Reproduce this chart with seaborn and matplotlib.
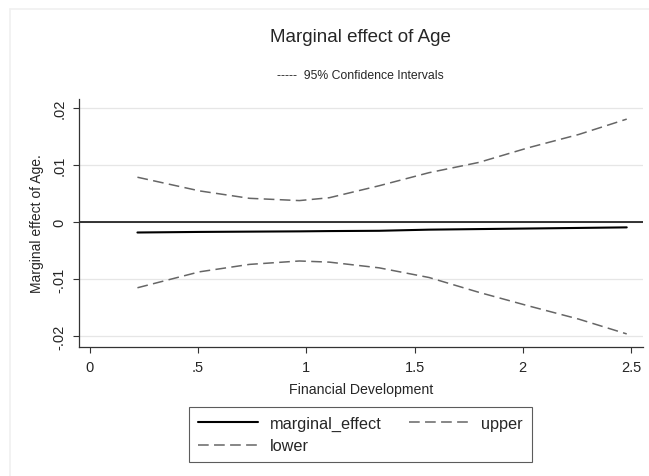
import matplotlib.pyplot as plt
from matplotlib.lines import Line2D
import seaborn as sns
import pandas as pd

# values
fin_dev = [0.22, 0.507, 0.737, 0.968, 1.106, 1.336, 1.567, 1.797, 2.028, 2.258, 2.48]
marginal_effect = [-0.0018, -0.0017, -0.00165, -0.0016, -0.00155, -0.0015, -0.0013, -0.0012, -0.0011, -0.0010, -0.0009]
upper = [0.0079, 0.0055, 0.0042, 0.0038, 0.0043, 0.0064, 0.0087, 0.0105, 0.0131, 0.0154, 0.0181]
lower = [-0.0115, -0.0087, -0.0074, -0.0068, -0.0070, -0.0080, -0.0097, -0.0123, -0.0147, -0.0170, -0.0196]

x_ticks = [0, 0.5, 1, 1.5, 2, 2.5]
x_labels = ["0", ".5", "1", "1.5", "2", "2.5"]
y_ticks = [-0.02, -0.01, 0, 0.01, 0.02]
y_labels = ["-.02", "-.01", "0", ".01", ".02"]


def plot_marginal_effect(df):
    sns.set_style("white")
    plt.rcParams["font.family"] = ["Liberation Sans", "DejaVu Sans"]
    fig = plt.figure(figsize=(6.49, 4.77), dpi=100)
    ax = fig.add_axes([0.1217, 0.2704, 0.869, 0.5196])

    # faint outer frame of the graph region
    fig.add_artist(Line2D([0.0154, 0.0154], [0, 0.979], transform=fig.transFigure,
                          color="#f0f0f0", lw=1.2))
    fig.add_artist(Line2D([0.0154, 1], [0.979, 0.979], transform=fig.transFigure,
                          color="#f0f0f0", lw=1.2))

    for y in y_ticks:
        ax.axhline(y, color="#e6e6e6", lw=0.9, zorder=0)
    ax.axhline(0, color="black", lw=1.1, zorder=1)

    sns.lineplot(data=df, x="fin_dev", y="marginal_effect", color="black",
                 lw=1.5, label="marginal_effect", ax=ax)
    sns.lineplot(data=df, x="fin_dev", y="upper", color="#666666",
                 lw=1.1, label="upper", ax=ax)
    sns.lineplot(data=df, x="fin_dev", y="lower", color="#666666",
                 lw=1.1, label="lower", ax=ax)
    for line in ax.get_lines()[-2:]:
        line.set_dashes([7, 3.5])

    ax.set_xlim(-0.05, 2.555)
    ax.set_ylim(-0.0219, 0.0216)
    ax.set_xticks(x_ticks, x_labels)
    ax.set_yticks(y_ticks, y_labels, rotation=90, va="center")
    ax.tick_params(axis="both", length=4, width=0.8, labelsize=10.5, color="#333333",
                   direction="out", bottom=True, left=True, pad=5)
    for side in ["top", "right"]:
        ax.spines[side].set_visible(False)
    for side in ["left", "bottom"]:
        ax.spines[side].set_color("#333333")
        ax.spines[side].set_linewidth(0.9)

    ax.set_xlabel("Financial Development", fontsize=10.2, labelpad=6)
    ax.set_ylabel("Marginal effect of Age.", fontsize=10, labelpad=6)

    fig.text(0.556, 0.922, "Marginal effect of Age", ha="center", va="center", fontsize=13.5)
    fig.text(0.556, 0.841, "-----  95% Confidence Intervals", ha="center", va="center",
             fontsize=8.8)

    handles, labels = ax.get_legend_handles_labels()
    order = [0, 2, 1]
    leg = ax.legend([handles[i] for i in order], [labels[i] for i in order],
                    ncol=2, loc="upper center", bbox_to_anchor=(0.499, -0.242),
                    borderaxespad=0, frameon=True, fancybox=False, edgecolor="#333333",
                    fontsize=11.7, handlelength=3.7, handletextpad=0.74,
                    columnspacing=1.7, borderpad=0.55, labelspacing=0.45)
    leg.get_frame().set_linewidth(0.8)

    fig.savefig("out.png", dpi=100)


if __name__ == "__main__":
    data = pd.DataFrame({"fin_dev": fin_dev, "marginal_effect": marginal_effect,
                         "upper": upper, "lower": lower})
    plot_marginal_effect(data)
